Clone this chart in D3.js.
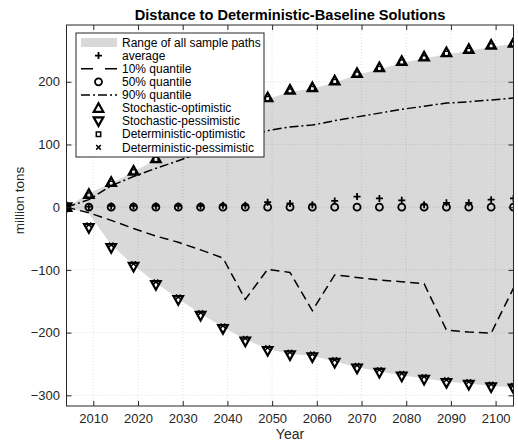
<!DOCTYPE html>
<html>
<head>
<meta charset="utf-8">
<script src="https://cdn.jsdelivr.net/npm/d3@7"></script>
<style>
  body { margin: 0; background: #fff; }
  text { font-family: "Liberation Sans", Arial, Helvetica, sans-serif; }
</style>
</head>
<body>
<svg id="chart"></svg>
<script>
const years = [2004, 2009, 2014, 2019, 2024, 2029, 2034, 2039, 2044, 2049, 2054, 2059, 2064, 2069, 2074, 2079, 2084, 2089, 2094, 2099, 2104];
const rangeMax = [0, 22, 38, 56, 76, 97, 118, 138, 156, 172, 184, 189, 199, 211, 220, 230, 237, 244, 249, 256, 260];
const rangeMin = [0, -10, -60, -92, -121, -146, -170, -191, -211, -226, -234, -237, -246, -255, -262, -268, -273, -278, -281, -285, -287];
const q10 = [0, -9, -21, -34, -46, -56, -68, -81, -147, -99, -104, -165, -108, -112, -116, -119, -122, -196, -199, -201, -129];
const q50 = [0, 0, 0, 0, 0, 0, 0, 0, 0, 0, 0, 0, 0, 0, 0, 0, 0, 0, 0, 0, 0];
const q90 = [0, 12, 34, 49, 62, 74, 87, 98, 112, 122, 128, 131, 138, 144, 150, 156, 161, 166, 168, 171, 174];
const average = [0, 1, 2, 2, 2, 2, 2, 3, 3, 8, 6, 4, 10, 17, 14, 11, 4, 7, 7, 12, 14];
const stochOpt = [0, 21, 40, 58, 78, 100, 121, 141, 159, 175, 187, 191, 202, 214, 223, 233, 240, 247, 252, 259, 262];
const stochPess = [0, -33, -65, -95, -124, -148, -173, -194, -214, -229, -236, -239, -248, -257, -264, -270, -275, -280, -283, -287, -289];
const detOpt = [0, 19, 38, 56, 76, 98, 119, 139, 157, 173, 185, 189, 200, 212, 221, 231, 238, 245, 250, 257, 260];
const detPess = [0, -28, -60, -90, -119, -143, -168, -189, -209, -224, -231, -234, -243, -252, -259, -265, -270, -275, -278, -282, -284];

const xTicks = [2010, 2020, 2030, 2040, 2050, 2060, 2070, 2080, 2090, 2100];
const yTicks = [-300, -200, -100, 0, 100, 200];

const width = 518;
const height = 444;
const marginLeft = 66.5, plotRight = 513.5, marginTop = 25, plotBottom = 406;

const x = d3.scaleLinear([2004, 2104], [marginLeft, plotRight]);
const y = d3.scaleLinear([-317, 290.5], [plotBottom, marginTop]);

const svg = d3.select("#chart")
    .attr("width", width)
    .attr("height", height)
    .attr("viewBox", [0, 0, width, height]);

const rows = years.map((yr, i) => ({
    year: yr, lo: rangeMin[i], hi: rangeMax[i], q10: q10[i], q50: q50[i], q90: q90[i],
    avg: average[i], so: stochOpt[i], sp: stochPess[i], dO: detOpt[i], dP: detPess[i]
}));

// clip to the axes box
svg.append("clipPath").attr("id", "clip")
    .append("rect").attr("x", marginLeft).attr("y", marginTop)
    .attr("width", plotRight - marginLeft).attr("height", plotBottom - marginTop);

const plot = svg.append("g").attr("clip-path", "url(#clip)");

// gray range of all sample paths
plot.append("path")
    .attr("fill", "#d9d9d9")
    .attr("d", d3.area().x(d => x(d.year)).y0(d => y(d.lo)).y1(d => y(d.hi))(rows));

// dotted grid on top of the patch
const grid = plot.append("g").attr("stroke", "#262626").attr("stroke-opacity", 0.15)
    .attr("stroke-dasharray", "1,2").attr("stroke-width", 1);
grid.selectAll(".gx").data(xTicks).join("line")
    .attr("x1", d => x(d)).attr("x2", d => x(d)).attr("y1", marginTop).attr("y2", plotBottom);
grid.selectAll(".gy").data(yTicks).join("line")
    .attr("x1", marginLeft).attr("x2", plotRight).attr("y1", d => y(d)).attr("y2", d => y(d));

// quantile lines
const dashed = "9,5";
const dashDot = "9,3,2,3";

plot.append("path")
    .attr("fill", "none").attr("stroke", "#000").attr("stroke-width", 1.5)
    .attr("stroke-dasharray", dashed)
    .attr("d", d3.line().x(d => x(d.year)).y(d => y(d.q10))(rows));

plot.append("path")
    .attr("fill", "none").attr("stroke", "#000").attr("stroke-width", 1.5)
    .attr("stroke-dasharray", dashDot)
    .attr("d", d3.line().x(d => x(d.year)).y(d => y(d.q90))(rows));

// marker shapes
const markers = {
    plus: "M-3.5,0H3.5M0,-3.5V3.5",
    circle: "M3.5,0A3.5,3.5 0 1 1 -3.5,0A3.5,3.5 0 1 1 3.5,0Z",
    up: "M0,-4.8L4.8,3.8L-4.8,3.8Z",
    down: "M0,4.8L4.8,-3.8L-4.8,-3.8Z",
    square: "M-2.2,-2.2H2.2V2.2H-2.2Z",
    cross: "M-2.3,-2.3L2.3,2.3M-2.3,2.3L2.3,-2.3"
};
const strokeW = { plus: 1.8, circle: 1.8, up: 2.2, down: 2.2, square: 1.5, cross: 1.5 };

function drawMarkers(key, shape) {
    plot.append("g").selectAll("path").data(rows).join("path")
        .attr("transform", d => `translate(${x(d.year)},${y(d[key])})`)
        .attr("d", markers[shape])
        .attr("fill", "none")
        .attr("stroke", "#000")
        .attr("stroke-width", strokeW[shape]);
}

drawMarkers("avg", "plus");
drawMarkers("q50", "circle");
drawMarkers("so", "up");
drawMarkers("sp", "down");
drawMarkers("dO", "square");
drawMarkers("dP", "cross");

// axes with inward ticks
const tickCol = "#262626";
svg.append("g")
    .attr("transform", `translate(0,${plotBottom})`)
    .call(d3.axisBottom(x).tickValues(xTicks).tickFormat(d3.format("d")).tickSize(-5).tickPadding(8))
    .call(g => g.select(".domain").remove())
    .call(g => g.selectAll("text").attr("font-size", 13).attr("fill", tickCol))
    .call(g => g.selectAll("line").attr("stroke", tickCol));

svg.append("g")
    .attr("transform", `translate(0,${marginTop})`)
    .call(d3.axisTop(x).tickValues(xTicks).tickFormat("").tickSize(-5))
    .call(g => g.select(".domain").remove())
    .call(g => g.selectAll("line").attr("stroke", tickCol));

svg.append("g")
    .attr("transform", `translate(${marginLeft},0)`)
    .call(d3.axisLeft(y).tickValues(yTicks).tickFormat(d3.format("d")).tickSize(-5).tickPadding(6.5))
    .call(g => g.select(".domain").remove())
    .call(g => g.selectAll("text").attr("font-size", 13).attr("fill", tickCol))
    .call(g => g.selectAll("line").attr("stroke", tickCol));

svg.append("g")
    .attr("transform", `translate(${plotRight},0)`)
    .call(d3.axisRight(y).tickValues(yTicks).tickFormat("").tickSize(-5))
    .call(g => g.select(".domain").remove())
    .call(g => g.selectAll("line").attr("stroke", tickCol));

svg.selectAll(".tick text").attr("font-family", null);

svg.append("rect")
    .attr("x", marginLeft).attr("y", marginTop)
    .attr("width", plotRight - marginLeft).attr("height", plotBottom - marginTop)
    .attr("fill", "none").attr("stroke", tickCol).attr("stroke-width", 1);

// labels
svg.append("text")
    .attr("x", (marginLeft + plotRight) / 2).attr("y", 19.5)
    .attr("text-anchor", "middle").attr("font-weight", "bold").attr("font-size", 14.6)
    .attr("fill", "#000")
    .text("Distance to Deterministic-Baseline Solutions");

svg.append("text")
    .attr("x", (marginLeft + plotRight) / 2).attr("y", 439)
    .attr("text-anchor", "middle").attr("font-size", 14).attr("fill", tickCol)
    .text("Year");

svg.append("text")
    .attr("transform", `translate(24,${(marginTop + plotBottom) / 2 - 15}) rotate(-90)`)
    .attr("text-anchor", "middle").attr("font-size", 13.5).attr("fill", tickCol)
    .text("million tons");

// legend
const legendItems = [
    { label: "Range of all sample paths", type: "patch" },
    { label: "average", type: "plus" },
    { label: "10% quantile", type: "dash" },
    { label: "50% quantile", type: "circle" },
    { label: "90% quantile", type: "dashdot" },
    { label: "Stochastic-optimistic", type: "up" },
    { label: "Stochastic-pessimistic", type: "down" },
    { label: "Deterministic-optimistic", type: "square" },
    { label: "Deterministic-pessimistic", type: "cross" }
];

const legend = svg.append("g");
legend.append("rect")
    .attr("x", 76).attr("y", 33).attr("width", 188).attr("height", 124)
    .attr("fill", "#fff").attr("stroke", tickCol).attr("stroke-width", 1);

const rowY = i => 42.5 + i * 13.1;
legendItems.forEach((it, i) => {
    const cy = rowY(i);
    const g = legend.append("g");
    if (it.type === "patch") {
        g.append("rect").attr("x", 81).attr("y", cy - 4.5).attr("width", 36).attr("height", 9).attr("fill", "#d9d9d9");
    } else if (it.type === "dash" || it.type === "dashdot") {
        g.append("line").attr("x1", 81).attr("x2", 117).attr("y1", cy).attr("y2", cy)
            .attr("stroke", "#000").attr("stroke-width", 1.5)
            .attr("stroke-dasharray", it.type === "dash" ? "12,12" : "9,3,2,3");
    } else {
        g.append("path").attr("transform", `translate(98.5,${cy})`)
            .attr("d", markers[it.type]).attr("fill", "none").attr("stroke", "#000")
            .attr("stroke-width", strokeW[it.type]);
    }
    g.append("text").attr("x", 122).attr("y", cy).attr("dy", "0.35em")
        .attr("font-size", 12).attr("fill", "#000").text(it.label);
});
</script>
</body>
</html>
